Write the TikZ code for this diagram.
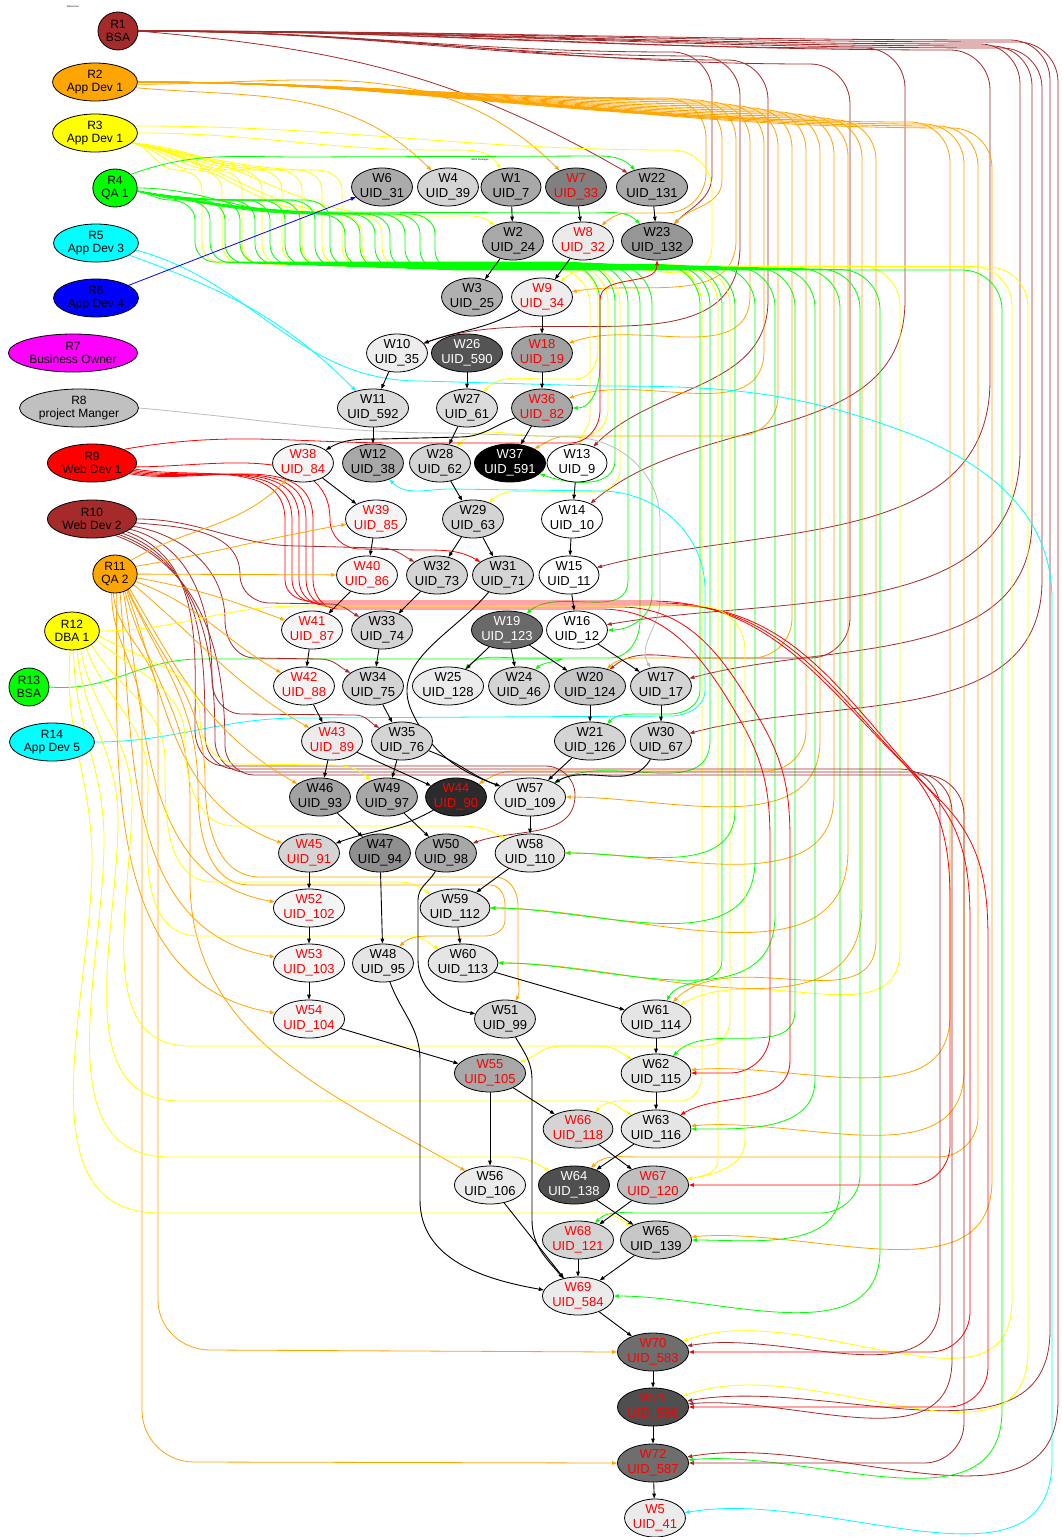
\documentclass[tikz,border=0pt]{standalone}
\usepackage{fontspec}
\setmainfont{Liberation Sans}
\usetikzlibrary{arrows.meta,shapes.geometric}
\pgfdeclarelayer{bg}
\pgfsetlayers{bg,main}
\definecolor{brn}{HTML}{A52A2A}
\definecolor{org}{HTML}{FFA500}
\definecolor{yel}{HTML}{FFFF00}
\definecolor{lim}{HTML}{00FF00}
\definecolor{cyn}{HTML}{00FFFF}
\definecolor{blu}{HTML}{0000FF}
\definecolor{mag}{HTML}{FF00FF}
\definecolor{sil}{HTML}{C0C0C0}
\definecolor{rd}{HTML}{FF0000}
\definecolor{edgegray}{HTML}{BDBDBD}
\tikzset{
  wbox/.style={ellipse, draw=black, line width=0.8pt, inner xsep=-0.5pt, inner ysep=-1pt,
    minimum width=60pt, minimum height=38pt, align=center, font=\fontsize{13}{15}\selectfont},
  rbox/.style={ellipse, draw=black, line width=0.8pt, inner xsep=2pt, inner ysep=0pt,
    minimum width=40pt, minimum height=38pt, align=center, font=\fontsize{12}{13.5}\selectfont},
  arrowhd/.style={-{Triangle[length=5pt,width=3.6pt]}},
  dep/.style={draw=black, line width=0.9pt, arrowhd},
  asg/.style={line width=0.8pt, arrowhd},
  eBr/.style={asg, draw=brn},
  eOr/.style={asg, draw=org},
  eYe/.style={asg, draw=yel},
  eGr/.style={asg, draw=lim},
  eRd/.style={asg, draw=rd},
  eCy/.style={asg, draw=cyn},
  eBl/.style={asg, draw=blu},
  eGy/.style={asg, draw=edgegray},
  tinylbl/.style={font=\fontsize{2.5}{3}\selectfont, inner sep=0pt}
}
\newcommand\wnode[5]{\node[wbox,fill=#4,text=#5] (#1) at (#2) {#3};}
\newcommand\resnode[4]{\node[rbox,fill=#4] (#1) at (#2) {#3};}
% resource -> right-hand channel -> down -> into the target at a given angle
% #1 style, #2 source, #3 channel x, #4 run y, #5 lowest y of the channel, #6 target, #7 entry angle
\newcommand\chN[7]{\draw[#1] (#2) to[out=0,in=180] (#3-40,#4) to[out=0,in=90] (#3,#4+40) -- (#3,#5) to[out=-90,in=#7] (#6);}
% resource -> channel -> horizontal run in a gap between rows -> target
% #1 style, #2 source, #3 channel x, #4 run y, #5 gap y, #6 end of gap run, #7 target, #8 entry angle
\newcommand\chG[8]{\draw[#1] (#2) to[out=0,in=180] (#3-40,#4) to[out=0,in=90] (#3,#4+40) -- (#3,#5-40) to[out=-90,in=0] (#3-40,#5) -- (#6,#5) to[out=180,in=#8] (#7);}
% resource -> S-bend down into the bundle below the second row -> rest of the route (#6)
% #1 style, #2 source, #3 bend x, #4 start y of the bend, #5 bundle y, #6 remaining path
\newcommand\wig[6]{\draw[#1] (#2) to[out=-10,in=180] (#3-25,#4) to[out=0,in=90] (#3,#4+20) -- (#3,#5-20) to[out=-90,in=180] (#3+20,#5) #6;}
\begin{document}
\begin{tikzpicture}[x=1pt,y=-1pt]
\useasboundingbox (0,0) rectangle (1062,1537);
\begin{pgfonlayer}{bg}
\fill[white] (0,0) rectangle (1062,1537);
\end{pgfonlayer}

% cluster captions
\node[tinylbl] (lblres) at (73,7) {Resources};
\node[tinylbl] (lblwp) at (480,160) {Work Packages};

% resources
\resnode{R1}{118,31}{R1\\BSA}{brn}
\resnode{R2}{95,82}{R2\\App Dev 1}{org}
\resnode{R3}{95,133}{R3\\App Dev 1}{yel}
\resnode{R4}{115,188}{R4\\QA 1}{lim}
\resnode{R5}{96,243}{R5\\App Dev 3}{cyn}
\resnode{R6}{96,298}{R6\\App Dev 4}{blu}
\resnode{R7}{73,353}{R7\\Business Owner}{mag}
\resnode{R8}{79,408}{R8\\project Manger}{sil}
\resnode{R9}{92,463}{R9\\Web Dev 1}{rd}
\resnode{R10}{92,519}{R10\\Web Dev 2}{brn}
\resnode{R11}{115,574}{R11\\QA 2}{org}
\resnode{R12}{72,631}{R12\\DBA 1}{yel}
\resnode{R13}{29,687}{R13\\BSA}{lim}
\resnode{R14}{52,742}{R14\\App Dev 5}{cyn}

% work packages
\wnode{W6}{382,187}{W6\\UID\_31}{black!33}{black}
\wnode{W4}{448,187}{W4\\UID\_39}{black!17}{black}
\wnode{W1}{511,187}{W1\\UID\_7}{black!34}{black}
\wnode{W7}{576,187}{W7\\UID\_33}{black!50}{rd}
\wnode{W22}{652,187}{W22\\UID\_131}{black!34}{black}
\wnode{W2}{513,241}{W2\\UID\_24}{black!34}{black}
\wnode{W8}{583,241}{W8\\UID\_32}{black!8}{rd}
\wnode{W23}{657,241}{W23\\UID\_132}{black!41}{black}
\wnode{W3}{472,297}{W3\\UID\_25}{black!31}{black}
\wnode{W9}{542,297}{W9\\UID\_34}{black!7}{rd}
\wnode{W10}{397,353}{W10\\UID\_35}{black!7}{black}
\wnode{W26}{467,353}{W26\\UID\_590}{black!67}{white}
\wnode{W18}{542,353}{W18\\UID\_19}{black!37}{rd}
\wnode{W11}{373,408}{W11\\UID\_592}{black!14}{black}
\wnode{W27}{467,408}{W27\\UID\_61}{black!14}{black}
\wnode{W36}{542,408}{W36\\UID\_82}{black!34}{rd}
\wnode{W38}{303,463}{W38\\UID\_84}{black!4}{rd}
\wnode{W12}{373,463}{W12\\UID\_38}{black!34}{black}
\wnode{W28}{440,463}{W28\\UID\_62}{black!17}{black}
\wnode{W37}{510,463}{W37\\UID\_591}{black}{white}
\wnode{W13}{577,463}{W13\\UID\_9}{white}{black}
\wnode{W39}{376,519}{W39\\UID\_85}{black!4}{rd}
\wnode{W29}{473,519}{W29\\UID\_63}{black!17}{black}
\wnode{W14}{572,519}{W14\\UID\_10}{white}{black}
\wnode{W40}{367,575}{W40\\UID\_86}{black!4}{rd}
\wnode{W32}{437,575}{W32\\UID\_73}{black!17}{black}
\wnode{W31}{503,575}{W31\\UID\_71}{black!17}{black}
\wnode{W15}{569,575}{W15\\UID\_11}{white}{black}
\wnode{W41}{312,630}{W41\\UID\_87}{black!4}{rd}
\wnode{W33}{382,630}{W33\\UID\_74}{black!17}{black}
\wnode{W19}{507,630}{W19\\UID\_123}{black!59}{white}
\wnode{W16}{577,630}{W16\\UID\_12}{white}{black}
\wnode{W42}{304,686}{W42\\UID\_88}{black!4}{rd}
\wnode{W34}{373,686}{W34\\UID\_75}{black!17}{black}
\wnode{W25}{448,686}{W25\\UID\_128}{black!8}{black}
\wnode{W24}{519,686}{W24\\UID\_46}{black!17}{black}
\wnode{W20}{590,686}{W20\\UID\_124}{black!22}{black}
\wnode{W17}{661,686}{W17\\UID\_17}{black!17}{black}
\wnode{W43}{332,741}{W43\\UID\_89}{black!8}{rd}
\wnode{W35}{402,741}{W35\\UID\_76}{black!17}{black}
\wnode{W21}{590,741}{W21\\UID\_126}{black!17}{black}
\wnode{W30}{661,741}{W30\\UID\_67}{black!17}{black}
\wnode{W46}{320,797}{W46\\UID\_93}{black!37}{black}
\wnode{W49}{387,797}{W49\\UID\_97}{black!34}{black}
\wnode{W44}{456,797}{W44\\UID\_90}{black!83}{rd}
\wnode{W57}{530,797}{W57\\UID\_109}{black!10}{black}
\wnode{W45}{309,853}{W45\\UID\_91}{black!17}{rd}
\wnode{W47}{380,853}{W47\\UID\_94}{black!44}{black}
\wnode{W50}{446,853}{W50\\UID\_98}{black!34}{black}
\wnode{W58}{530,853}{W58\\UID\_110}{black!10}{black}
\wnode{W52}{309,908}{W52\\UID\_102}{black!4}{rd}
\wnode{W59}{455,908}{W59\\UID\_112}{black!12}{black}
\wnode{W53}{309,963}{W53\\UID\_103}{black!4}{rd}
\wnode{W48}{383,963}{W48\\UID\_95}{black!10}{black}
\wnode{W60}{463,963}{W60\\UID\_113}{black!10}{black}
\wnode{W54}{309,1019}{W54\\UID\_104}{black!4}{rd}
\wnode{W51}{505,1019}{W51\\UID\_99}{black!17}{black}
\wnode{W61}{656,1019}{W61\\UID\_114}{black!10}{black}
\wnode{W55}{490,1073}{W55\\UID\_105}{black!34}{rd}
\wnode{W62}{656,1073}{W62\\UID\_115}{black!10}{black}
\wnode{W66}{578,1129}{W66\\UID\_118}{black!17}{rd}
\wnode{W63}{656,1129}{W63\\UID\_116}{black!10}{black}
\wnode{W56}{490,1185}{W56\\UID\_106}{black!8}{black}
\wnode{W64}{574,1185}{W64\\UID\_138}{black!69}{white}
\wnode{W67}{653,1185}{W67\\UID\_120}{black!25}{rd}
\wnode{W68}{578,1240}{W68\\UID\_121}{black!17}{rd}
\wnode{W65}{656,1240}{W65\\UID\_139}{black!22}{black}
\wnode{W69}{578,1296}{W69\\UID\_584}{black!8}{rd}
\wnode{W70}{653,1352}{W70\\UID\_583}{black!57}{rd}
\wnode{W71}{653,1407}{W71\\UID\_586}{black!69}{rd}
\wnode{W72}{653,1463}{W72\\UID\_587}{black!57}{rd}
\wnode{W5}{655,1518}{W5\\UID\_41}{black!8}{rd}

\begin{pgfonlayer}{bg}
% ---------- R1 (brown) ----------
\draw[eBr] (R1.east) to[out=-5,in=150] (W22);
\chN{eBr}{R1.east}{712}{52}{175}{W23}{45}
\chN{eBr}{R1.east}{740}{56}{245}{W10}{20}
\chN{eBr}{R1.east}{768}{60}{300}{W13}{45}
\chN{eBr}{R1.east}{905}{48}{300}{W14}{40}
\chN{eBr}{R1.east}{990}{50}{380}{W15}{15}
\chN{eBr}{R1.east}{1020}{44}{450}{W16}{10}
\chN{eBr}{R1.east}{1032}{46}{520}{W17}{15}
\chN{eBr}{R1.east}{1042}{48}{580}{W30}{15}
\chN{eBr}{R1.east}{1050}{40}{1330}{W71}{10}
\chN{eBr}{R1.east}{1058}{42}{1400}{W72}{10}
\chG{eBr}{R1.east}{850}{64}{658}{700}{W20}{40}

% ---------- R2 (orange) ----------
\draw[eOr] (R2.-8) to[out=-5,in=135] (W4);
\draw[eOr] (R2.-3) to[out=0,in=135] (W7);
\chG{eOr}{R2.east}{706}{98}{213}{630}{W8}{40}
\chN{eOr}{R2.east}{722}{99}{180}{W23}{45}
\chN{eOr}{R2.east}{736}{100}{240}{W9}{10}
\chN{eOr}{R2.east}{750}{102}{295}{W18}{20}
\chN{eOr}{R2.east}{764}{104}{350}{W36}{20}
\chG{eOr}{R2.east}{778}{106}{436}{570}{W37}{30}
\chG{eOr}{R2.east}{792}{108}{658}{640}{W20}{45}
\chG{eOr}{R2.east}{806}{110}{771}{515}{W44}{30}
\chN{eOr}{R2.east}{820}{112}{740}{W57}{0}
\chN{eOr}{R2.east}{834}{114}{795}{W58}{0}
\chN{eOr}{R2.east}{848}{116}{850}{W59}{0}
\chN{eOr}{R2.east}{862}{118}{905}{W60}{0}
\chN{eOr}{R2.east}{876}{120}{940}{W61}{45}
\chN{eOr}{R2.east}{950}{122}{1015}{W62}{5}
\chN{eOr}{R2.east}{964}{124}{1070}{W63}{5}
\chG{eOr}{R2.east}{978}{126}{1157}{640}{W64}{45}
\chN{eOr}{R2.east}{992}{128}{1180}{W65}{5}

% ---------- R3 (yellow) ----------
\draw[eYe] (R3.east) to[out=0,in=180] (440,150) to[out=0,in=120] (W1);
\draw[eYe] (R3.10) to[out=0,in=180] (672,150) to[out=0,in=90] (712,190) -- (712,245) to[out=-90,in=40] (W9);
\draw[eYe] (R3.-15) to[out=-5,in=180] (400,216) -- (450,216) to[out=0,in=140] (W2);
\wig{eYe}{R3.-15}{202}{170}{263}{-- (560,263) to[out=0,in=90] (598,300) -- (598,350) to[out=-90,in=0] (575,379) -- (545,379) to[out=180,in=45] (W27)}
\wig{eYe}{R3.-15}{222}{170}{263.5}{-- (568,263.5) to[out=0,in=90] (608,303) -- (608,410) to[out=-90,in=0] (583,436) -- (540,436) to[out=180,in=45] (W28)}
\wig{eYe}{R3.-15}{242}{170}{264}{-- (580,264) to[out=0,in=90] (620,304) -- (620,470) to[out=-90,in=0] (595,492) -- (540,492) to[out=180,in=45] (W29)}
\wig{eYe}{R3.-15}{262}{170}{264.5}{-- (662,264.5) to[out=0,in=90] (702,305) -- (702,1075) to[out=-90,in=0] (680,1101) -- (640,1101) to[out=180,in=45] (W66)}
\wig{eYe}{R3.-15}{282}{170}{265}{-- (678,265) to[out=0,in=90] (718,305) -- (718,1160) to[out=-90,in=10] (W67)}
\wig{eYe}{R3.-15}{302}{170}{265.5}{-- (690,265.5) to[out=0,in=90] (730,306) -- (730,1020) to[out=-90,in=0] (705,1046) -- (560,1046) to[out=180,in=20] (W55)}
\wig{eYe}{R3.-15}{322}{170}{266}{-- (860,266) to[out=0,in=90] (900,306) -- (900,950) to[out=-90,in=30] (W61)}
\wig{eYe}{R3.-15}{342}{170}{266.5}{-- (972,266.5) to[out=0,in=90] (1012,306) -- (1012,1300) to[out=-90,in=20] (W70)}
\wig{eYe}{R3.-15}{362}{214}{267}{-- (988,267) to[out=0,in=90] (1028,307) -- (1028,1350) to[out=-90,in=20] (W71)}
\wig{eYe}{R3.-15}{382}{214}{267.5}{-- (552,267.5) to[out=0,in=90] (590,305) -- (590,415) to[out=-90,in=80] (W13)}

% ---------- R4 (green) ----------
\draw[eGr] (R4.north east) to[out=20,in=180] (300,157) -- (600,156) to[out=0,in=135] (W22);
\draw[eGr] (R4.east) to[out=0,in=180] (300,212) -- (590,213) to[out=0,in=135] (W23);
\wig{eGr}{R4.-8}{195}{200}{262}{-- (560,262) to[out=0,in=90] (600,302) -- (600,365) to[out=-90,in=0] (W36)}
\wig{eGr}{R4.-8}{210}{200}{262.5}{-- (575,262.5) to[out=0,in=90] (615,302) -- (615,460) to[out=-90,in=-20] (W37)}
\wig{eGr}{R4.-8}{225}{200}{263}{-- (588,263) to[out=0,in=90] (628,303) -- (628,580) to[out=-90,in=40] (W19)}
\wig{eGr}{R4.-8}{240}{200}{263.5}{-- (600,263.5) to[out=0,in=90] (640,304) -- (640,620) to[out=-90,in=0] (610,658) -- (520,658) to[out=180,in=45] (W25)}
\wig{eGr}{R4.-8}{255}{200}{264}{-- (612,264) to[out=0,in=90] (652,304) -- (652,595) to[out=-90,in=0] (W16)}
\wig{eGr}{R4.-8}{270}{200}{264.5}{-- (660,264.5) to[out=0,in=90] (700,305) -- (700,690) to[out=-90,in=0] (670,714) -- (640,714) to[out=180,in=45] (W21)}
\wig{eGr}{R4.-8}{285}{200}{265}{-- (670,265) to[out=0,in=90] (710,305) -- (710,740) to[out=-90,in=30] (W57)}
\wig{eGr}{R4.-8}{300}{200}{265.5}{-- (682,265.5) to[out=0,in=90] (722,305) -- (722,960) to[out=-90,in=60] (W61)}
\wig{eGr}{R4.-8}{315}{200}{266}{-- (695,266) to[out=0,in=90] (735,306) -- (735,810) to[out=-90,in=0] (W58)}
\wig{eGr}{R4.-8}{330}{200}{266.5}{-- (715,266.5) to[out=0,in=90] (755,306) -- (755,860) to[out=-90,in=0] (W59)}
\wig{eGr}{R4.-8}{345}{214}{267}{-- (735,267) to[out=0,in=90] (775,307) -- (775,915) to[out=-90,in=0] (W60)}
\wig{eGr}{R4.-8}{360}{214}{267.5}{-- (755,267.5) to[out=0,in=90] (795,307) -- (795,1010) to[out=-90,in=45] (W62)}
\wig{eGr}{R4.-8}{375}{214}{268}{-- (775,268) to[out=0,in=90] (815,308) -- (815,1080) to[out=-90,in=0] (W63)}
\wig{eGr}{R4.-8}{390}{214}{268.5}{-- (800,268.5) to[out=0,in=90] (840,308) -- (840,1190) to[out=-90,in=0] (W65)}
\wig{eGr}{R4.-8}{405}{214}{269}{-- (820,269) to[out=0,in=90] (860,309) -- (860,1175) to[out=-90,in=0] (820,1213) -- (640,1213) to[out=180,in=45] (W68)}
\wig{eGr}{R4.-8}{420}{214}{269.5}{-- (840,269.5) to[out=0,in=90] (880,310) -- (880,1250) to[out=-90,in=0] (W69)}
\wig{eGr}{R4.-8}{435}{214}{270}{-- (962,270) to[out=0,in=90] (1002,310) -- (1002,1410) to[out=-90,in=5] (W72)}

% ---------- R5, R6, R8, R13, R14 ----------
\draw[eCy] (R5.-20) to[out=-20,in=135] (W11);
\draw[eCy] (R5.-10) to[out=-15,in=180] (420,381) -- (600,386) to[out=0,in=160] (900,430) to[out=-20,in=90] (1052,600) -- (1052,1460) to[out=-90,in=10] (W5);
\draw[eBl] (R6) -- (W6);
\draw[eGy] (R8.east) to[out=-5,in=180] (450,433) -- (570,437) to[out=0,in=90] (660,520) -- (660,600) to[out=-90,in=120] (W17);
\draw[eGr] (R13.east) to[out=-5,in=180] (200,659) -- (560,659) to[out=0,in=45] (W24);
\draw[eCy] (R14.east) to[out=0,in=180] (300,718) -- (670,716) to[out=0,in=-90] (705,690) -- (705,590) to[out=90,in=0] (600,491) -- (450,489) to[out=180,in=-45] (W12);

% ---------- R9 (red) ----------
\draw[eRd] (R9.north east) to[out=10,in=180] (400,443) -- (570,443) to[out=0,in=-90] (600,410) -- (600,300) to[out=90,in=-90] (W23);
\draw[eRd] (R9.-5) to[out=0,in=90] (330,520) to[out=-90,in=180] (360,549) -- (420,550) to[out=0,in=150] (W31);
\draw[eRd] (R9.-8) to[out=-10,in=90] (285,520) -- (285,580) to[out=-90,in=180] (310,601) -- (650,601) to[out=0,in=135] (900,760) to[out=-45,in=90] (950,900) -- (950,1145) to[out=-90,in=0] (910,1185) -- (W67.east);
\draw[eRd] (R9.-10) to[out=-10,in=90] (292,520) -- (292,580) to[out=-90,in=180] (317,603) -- (660,603) to[out=0,in=135] (920,780) to[out=-45,in=90] (970,920) -- (970,1312) to[out=-90,in=0] (930,1352) -- (W70.east);
\draw[eRd] (R9.-12) to[out=-10,in=90] (299,520) -- (299,580) to[out=-90,in=180] (324,605) -- (670,605) to[out=0,in=135] (940,800) to[out=-45,in=90] (988,940) -- (988,1367) to[out=-90,in=0] (948,1407) -- (W71.east);
\draw[eRd] (R9.-14) to[out=-10,in=90] (306,520) -- (306,580) to[out=-90,in=180] (331,607) -- (620,607) to[out=0,in=120] (760,720) to[out=-60,in=90] (790,840) -- (790,1060) to[out=-90,in=30] (W63);
\draw[eRd] (R9.-16) to[out=-10,in=90] (313,520) -- (313,580) to[out=-90,in=180] (338,609) -- (600,609) to[out=0,in=120] (740,720) to[out=-60,in=90] (770,840) -- (770,1033) to[out=-90,in=0] (730,1073) -- (W62.east);

% ---------- R10 (brown) ----------
\draw[eBr] (R10.east) to[out=0,in=180] (300,546) -- (380,548) to[out=0,in=150] (W32);
\draw[eBr] (R10.-5) to[out=-5,in=90] (240,575) to[out=-90,in=180] (270,603) -- (330,604) to[out=0,in=150] (W33);
\draw[eBr] (R10.-10) to[out=-10,in=90] (225,620) to[out=-90,in=180] (255,658) -- (320,659) to[out=0,in=150] (W34);
\draw[eBr] (R10.-15) to[out=-15,in=90] (212,680) to[out=-90,in=180] (242,714) -- (355,715) to[out=0,in=150] (W35);
\draw[eBr] (R10.-20) to[out=-20,in=90] (195,730) to[out=-90,in=180] (225,766) -- (545,766) to[out=0,in=90] (575,795) to[out=-90,in=20] (W50);
\draw[eBr] (R10.-25) to[out=-20,in=90] (205,735) to[out=-90,in=180] (235,769) -- (900,769) to[out=0,in=90] (940,809) -- (940,1300) to[out=-90,in=10] (W70);
\draw[eBr] (R10.-30) to[out=-20,in=90] (215,740) to[out=-90,in=180] (245,772) -- (912,772) to[out=0,in=90] (952,812) -- (952,1360) to[out=-90,in=5] (W71);
\draw[eBr] (R10.-35) to[out=-20,in=90] (225,745) to[out=-90,in=180] (255,775) -- (924,775) to[out=0,in=90] (964,815) -- (964,1423) to[out=-90,in=0] (924,1463) -- (W72.east);

% ---------- R11 (orange) ----------
\draw[eOr] (R11.north east) to[out=30,in=-135] (W38);
\draw[eOr] (R11.20) to[out=10,in=190] (W39);
\draw[eOr] (R11) -- (W40);
\draw[eOr] (R11.-10) to[out=-10,in=160] (W41);
\draw[eOr] (R11.-20) to[out=-20,in=150] (W42);
\draw[eOr] (R11.-30) to[out=-40,in=150] (W43);
\draw[eOr] (R11.-45) to[out=-60,in=150] (W46);
\draw[eOr] (R11.-55) to[out=-70,in=160] (W45);
\draw[eOr] (R11.-65) to[out=-80,in=170] (W52);
\draw[eOr] (R11.-75) to[out=-85,in=170] (W53);
\draw[eOr] (R11.-85) to[out=-90,in=170] (W54);
\draw[eOr] (R11.-60) to[out=-75,in=90] (190,800) -- (190,880) to[out=-90,in=150] (W56);
\draw[eOr] (R11.-95) to[out=-85,in=90] (158,700) -- (158,1300) to[out=-90,in=180] (210,1350) -- (W70.west);
\draw[eOr] (R11.-100) to[out=-90,in=90] (142,720) -- (142,1410) to[out=-90,in=180] (194,1462) -- (W72.west);
\draw[eOr] (R11.-50) to[out=-65,in=90] (205,780) to[out=-90,in=180] (260,877) -- (495,877) to[out=0,in=90] (518,905) -- (518,975) to[out=-90,in=60] (W51);
\draw[eOr] (R11.-52) to[out=-65,in=90] (198,790) to[out=-90,in=180] (250,885) -- (490,885) to[out=0,in=90] (505,905) -- (505,920) to[out=-90,in=0] (485,936) -- (430,936) to[out=180,in=45] (W48);

% ---------- R12 (yellow) ----------
\draw[eYe] (R12.-10) to[out=-30,in=90] (200,720) to[out=-90,in=180] (240,764) -- (330,765) to[out=0,in=135] (W49);
\draw[eYe] (R12.-20) to[out=-40,in=90] (185,740) to[out=-90,in=180] (235,826) -- (460,826) to[out=0,in=150] (W58);
\draw[eYe] (R12.-35) to[out=-60,in=90] (165,760) to[out=-90,in=180] (215,882) -- (400,882) to[out=0,in=150] (W59);
\draw[eYe] (R12.-50) to[out=-70,in=90] (148,780) to[out=-90,in=180] (200,936) -- (410,936) to[out=0,in=150] (W60);
\draw[eYe] (R12.-65) to[out=-80,in=90] (132,800) to[out=-90,in=180] (190,1046) -- (600,1046) to[out=0,in=150] (W62);
\draw[eYe] (R12.-75) to[out=-85,in=90] (118,820) to[out=-90,in=180] (180,1101) -- (600,1101) to[out=0,in=150] (W63);
\draw[eYe] (R12.-85) to[out=-90,in=90] (104,840) to[out=-90,in=180] (170,1157) -- (510,1157) to[out=0,in=150] (W64);
\draw[eYe] (R12.-95) to[out=-95,in=90] (92,860) to[out=-90,in=180] (160,1213) -- (600,1213) to[out=0,in=150] (W65);
\draw[eYe] (R12.east) to[out=0,in=180] (300,606) -- (700,606) to[out=0,in=90] (745,650) -- (745,1140) to[out=-90,in=10] (W67);

% ---------- work package dependencies ----------
\draw[dep] (W1) -- (W2);
\draw[dep] (W7) -- (W8);
\draw[dep] (W22) -- (W23);
\draw[dep] (W2) -- (W3);
\draw[dep] (W8) -- (W9);
\draw[dep] (W9) to[out=-150,in=20] (W10);
\draw[dep] (W9) -- (W18);
\draw[dep] (W10) -- (W11);
\draw[dep] (W26) -- (W27);
\draw[dep] (W18) -- (W36);
\draw[dep] (W11) -- (W12);
\draw[dep] (W27) -- (W28);
\draw[dep] (W36) to[out=-160,in=0] (460,437) -- (380,439) to[out=180,in=30] (W38);
\draw[dep] (W36) -- (W37);
\draw[dep] (W13) -- (W14);
\draw[dep] (W38) -- (W39);
\draw[dep] (W28) -- (W29);
\draw[dep] (W14) -- (W15);
\draw[dep] (W39) -- (W40);
\draw[dep] (W29) -- (W32);
\draw[dep] (W29) -- (W31);
\draw[dep] (W15) -- (W16);
\draw[dep] (W40) -- (W41);
\draw[dep] (W32) -- (W33);
\draw[dep] (W31) to[out=-130,in=115] (412,712) to[out=-65,in=160] (W57);
\draw[dep] (W19) -- (W25);
\draw[dep] (W19) -- (W24);
\draw[dep] (W19) -- (W20);
\draw[dep] (W16) -- (W17);
\draw[dep] (W41) -- (W42);
\draw[dep] (W33) -- (W34);
\draw[dep] (W20) -- (W21);
\draw[dep] (W17) -- (W30);
\draw[dep] (W42) -- (W43);
\draw[dep] (W34) -- (W35);
\draw[dep] (W43) -- (W46);
\draw[dep] (W43) -- (W44);
\draw[dep] (W35) -- (W49);
\draw[dep] (W35) to[out=-20,in=160] (W57);
\draw[dep] (W21) -- (W57);
\draw[dep] (W30) to[out=-120,in=30] (W57);
\draw[dep] (W46) -- (W47);
\draw[dep] (W49) -- (W50);
\draw[dep] (W44) to[out=-150,in=20] (W45);
\draw[dep] (W57) -- (W58);
\draw[dep] (W45) -- (W52);
\draw[dep] (W47) -- (W48);
\draw[dep] (W50) to[out=-120,in=90] (418,900) -- (418,960) to[out=-90,in=170] (W51);
\draw[dep] (W58) -- (W59);
\draw[dep] (W52) -- (W53);
\draw[dep] (W59) -- (W60);
\draw[dep] (W53) -- (W54);
\draw[dep] (W60) -- (W61);
\draw[dep] (W48) to[out=-70,in=90] (420,1060) -- (420,1200) to[out=-90,in=170] (W69);
\draw[dep] (W54) -- (W55);
\draw[dep] (W51) to[out=-60,in=90] (532,1080) -- (532,1220) to[out=-90,in=130] (W69);
\draw[dep] (W61) -- (W62);
\draw[dep] (W55) -- (W56);
\draw[dep] (W55) -- (W66);
\draw[dep] (W62) -- (W63);
\draw[dep] (W63) -- (W64);
\draw[dep] (W66) -- (W67);
\draw[dep] (W64) -- (W65);
\draw[dep] (W67) -- (W68);
\draw[dep] (W56) -- (W69);
\draw[dep] (W68) -- (W69);
\draw[dep] (W65) -- (W69);
\draw[dep] (W69) -- (W70);
\draw[dep] (W70) -- (W71);
\draw[dep] (W71) -- (W72);
\draw[dep] (W72) -- (W5);
\end{pgfonlayer}
\end{tikzpicture}
\end{document}
